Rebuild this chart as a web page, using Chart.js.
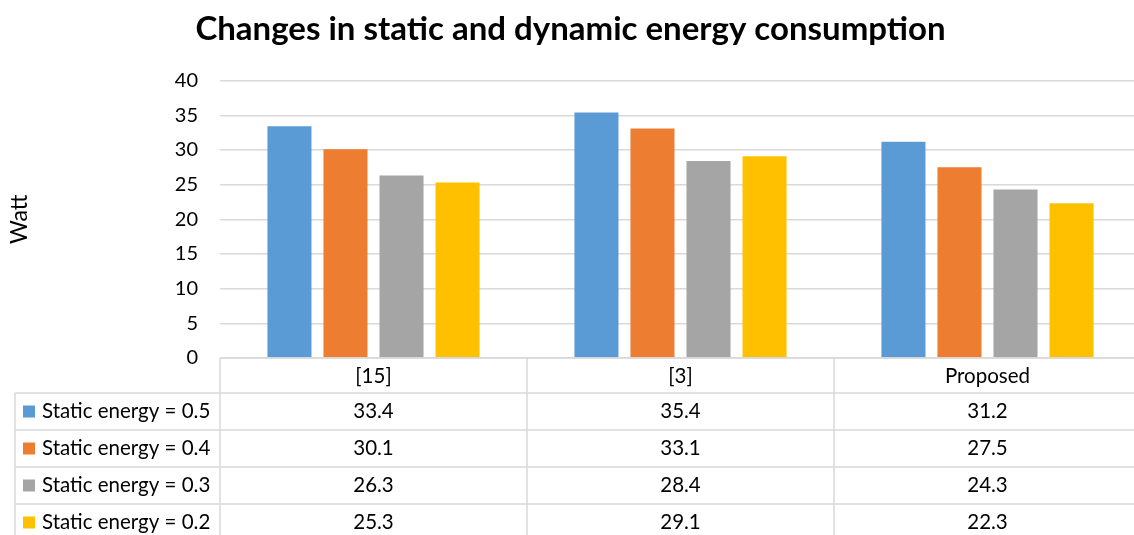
<!DOCTYPE html>
<html>
<head>
<meta charset="utf-8">
<script src="https://cdn.jsdelivr.net/npm/chart.js@4.4.1/dist/chart.umd.min.js"></script>
<style>
  html, body { margin: 0; padding: 0; background: #ffffff; overflow: hidden; }
  #wrap { width: 1150px; height: 535px; }
</style>
</head>
<body>
<div id="wrap"><canvas id="c" width="1150" height="535"></canvas></div>
<script>
// Categories and series
const categories = ['[15]', '[3]', 'Proposed'];
const seriesNames = ['Static energy = 0.5', 'Static energy = 0.4', 'Static energy = 0.3', 'Static energy = 0.2'];
const static05 = [33.4, 35.4, 31.2];
const static04 = [30.1, 33.1, 27.5];
const static03 = [26.3, 28.4, 24.3];
const static02 = [25.3, 29.1, 22.3];
const seriesColors = ['#5B9BD5', '#ED7D31', '#A5A5A5', '#FFC000'];
const yTicks = [0, 5, 10, 15, 20, 25, 30, 35, 40];

const FONT = 'Lato, "Open Sans", sans-serif';
const LINE = '#d9d9d9';
const TABLE_FONT = '20.5px ' + FONT;

const seriesValues = [static05, static04, static03, static02];

// Data table under the plot: category header row plus one row per series
const dataTablePlugin = {
  id: 'dataTable',
  afterDraw(chart) {
    const ctx = chart.ctx;
    const area = chart.chartArea;
    const xs = chart.scales.x;
    const n = categories.length;
    const colW = (area.right - area.left) / n;
    const headerH = 35;
    const rowH = 37;
    const tableTop = area.bottom;
    const legendLeft = 15;
    const bottom = chart.height + 10;

    ctx.save();
    ctx.strokeStyle = LINE;
    ctx.lineWidth = 1.5;

    // horizontal lines
    ctx.beginPath();
    ctx.moveTo(area.left, tableTop);
    ctx.lineTo(area.right, tableTop);
    for (let r = 0; r <= seriesNames.length; r++) {
      const y = tableTop + headerH + r * rowH;
      ctx.moveTo(legendLeft, y);
      ctx.lineTo(area.right, y);
    }
    // vertical lines
    ctx.moveTo(legendLeft, tableTop + headerH);
    ctx.lineTo(legendLeft, bottom);
    for (let c = 0; c <= n; c++) {
      const x = area.left + c * colW;
      ctx.moveTo(x, tableTop);
      ctx.lineTo(x, bottom);
    }
    ctx.stroke();

    ctx.fillStyle = '#000000';
    ctx.font = TABLE_FONT;
    ctx.textBaseline = 'middle';
    ctx.textAlign = 'center';
    categories.forEach((cat, i) => {
      ctx.fillText(cat, xs.getPixelForValue(i), tableTop + headerH / 2 + 1);
    });

    seriesNames.forEach((name, r) => {
      const yMid = tableTop + headerH + r * rowH + rowH / 2;
      ctx.fillStyle = seriesColors[r];
      ctx.fillRect(23, yMid - 6, 12, 12);
      ctx.fillStyle = '#000000';
      ctx.textAlign = 'left';
      ctx.fillText(name, 42, yMid);
      ctx.textAlign = 'center';
      seriesValues[r].forEach((v, i) => {
        ctx.fillText(v.toFixed(1), xs.getPixelForValue(i), yMid);
      });
    });
    ctx.restore();
  }
};

new Chart(document.getElementById('c'), {
  type: 'bar',
  data: {
    labels: categories,
    datasets: seriesNames.map((name, i) => ({
      label: name,
      data: seriesValues[i],
      backgroundColor: seriesColors[i],
      borderWidth: 0,
      categoryPercentage: 0.73,
      barPercentage: 0.786
    }))
  },
  options: {
    responsive: false,
    animation: false,
    devicePixelRatio: 1,
    layout: { padding: { left: 0, right: 9, top: 0, bottom: 177 } },
    plugins: {
      legend: { display: false },
      tooltip: { enabled: false },
      title: {
        display: true,
        text: 'Changes in static and dynamic energy consumption',
        color: '#000000',
        font: { family: FONT, size: 33, weight: 'bold' },
        padding: { top: 10, bottom: 31 }
      }
    },
    scales: {
      x: { display: false },
      y: {
        min: 0,
        max: 40,
        afterBuildTicks(scale) { scale.ticks = yTicks.map(v => ({ value: v })); },
        afterFit(scale) { scale.width = 220; },
        ticks: { color: '#000000', font: { family: FONT, size: 20 }, padding: 22 },
        grid: { color: LINE, lineWidth: 1.5, drawTicks: false },
        border: { display: false },
        title: {
          display: true,
          text: 'Watt',
          color: '#000000',
          font: { family: FONT, size: 23 },
          padding: { top: 6, bottom: 0 }
        }
      }
    }
  },
  plugins: [dataTablePlugin]
});
</script>
</body>
</html>
